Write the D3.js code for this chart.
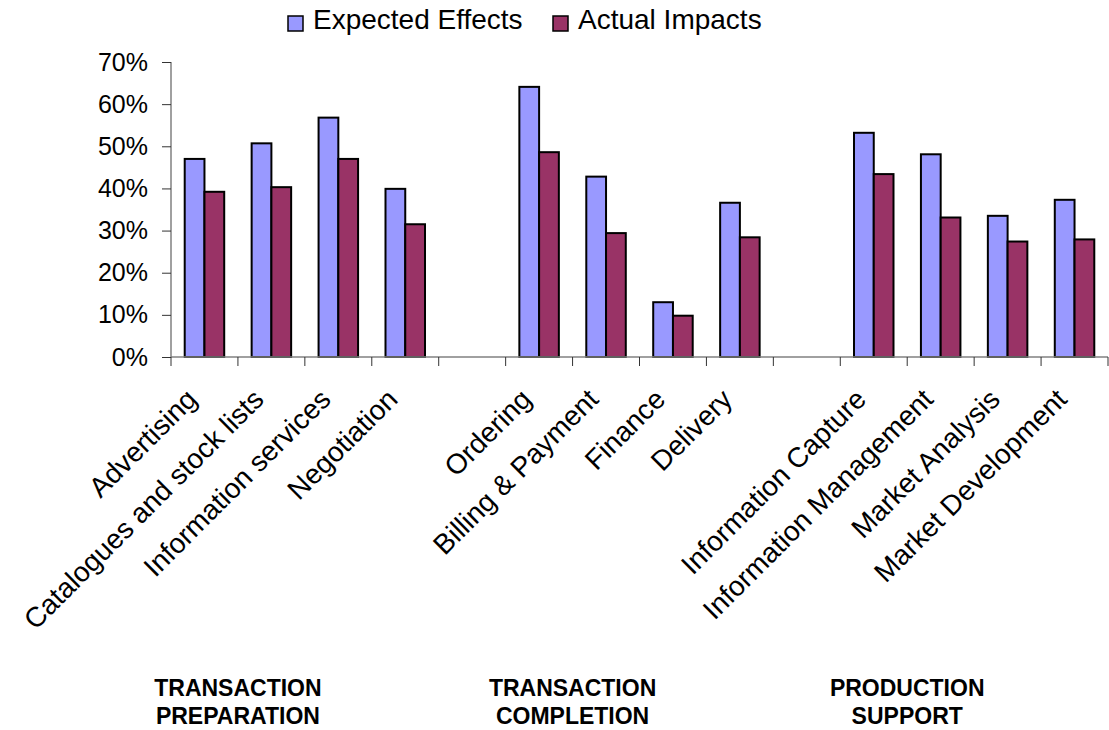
<!DOCTYPE html>
<html>
<head>
<meta charset="utf-8">
<script src="https://cdn.jsdelivr.net/npm/d3@7"></script>
<style>
  html, body { margin: 0; padding: 0; background: #fff; }
  svg { display: block; font-family: "Liberation Sans", Arial, sans-serif; }
</style>
</head>
<body>
<svg id="chart" width="1109" height="730"></svg>
<script>
const categories = ["Advertising", "Catalogues and stock lists", "Information services", "Negotiation", "",
  "Ordering", "Billing & Payment", "Finance", "Delivery", " ",
  "Information Capture", "Information Management", "Market Analysis", "Market Development"];
const expectedEffects = [47.0, 50.7, 56.8, 39.9, null, 64.1, 42.8, 13.0, 36.6, null, 53.2, 48.1, 33.5, 37.3];
const actualImpacts   = [39.2, 40.3, 47.0, 31.5, null, 48.6, 29.4, 9.8, 28.4, null, 43.4, 33.1, 27.4, 27.9];
const seriesNames = ["Expected Effects", "Actual Impacts"];
const seriesColors = ["#9999FF", "#993366"];
const yTicks = [0, 10, 20, 30, 40, 50, 60, 70];
const groupLabels = [["TRANSACTION", "PREPARATION"], ["TRANSACTION", "COMPLETION"], ["PRODUCTION", "SUPPORT"]];
const groupCenterSlots = [1, 6, 11];

const svg = d3.select("#chart");
const pLeft = 171, pRight = 1108, pTop = 62, pBottom = 357;

const x = d3.scaleBand().domain(d3.range(categories.length)).range([pLeft, pRight]).padding(0);
const y = d3.scaleLinear().domain([0, 70]).range([pBottom, pTop]);
const inner = d3.scaleBand().domain([0, 1]).range([0, 39.5]);
const groupOffset = (x.bandwidth() - 39.5) / 2;

// bars
const series = [expectedEffects, actualImpacts];
series.forEach((vals, si) => {
  svg.append("g").selectAll("rect")
    .data(vals.map((v, i) => ({v, i})).filter(d => d.v !== null))
    .join("rect")
    .attr("x", d => x(d.i) + groupOffset + inner(si))
    .attr("y", d => y(d.v))
    .attr("width", inner.bandwidth())
    .attr("height", d => y(0) - y(d.v))
    .attr("fill", seriesColors[si])
    .attr("stroke", "#000")
    .attr("stroke-width", 2);
});

// y axis
const yAxis = svg.append("g").attr("transform", `translate(${pLeft},0)`)
  .call(d3.axisLeft(y).tickValues(yTicks).tickFormat(d => d + "%").tickSize(9).tickPadding(14));
yAxis.select(".domain").attr("stroke", "#808080").attr("stroke-width", 1.5).attr("d", `M0,${pTop}V${pBottom}`);
yAxis.selectAll(".tick line").attr("stroke", "#333");
yAxis.selectAll(".tick text").attr("font-size", 25).attr("fill", "#000")
  .attr("font-family", "'Liberation Sans', Arial, sans-serif");

// x axis (ticks at band boundaries)
const xAxisG = svg.append("g");
xAxisG.append("line").attr("x1", pLeft).attr("x2", pRight).attr("y1", pBottom).attr("y2", pBottom)
  .attr("stroke", "#808080").attr("stroke-width", 1.5);
const bounds = d3.range(categories.length + 1).map(i => i < categories.length ? x(i) : x(categories.length - 1) + x.bandwidth());
xAxisG.selectAll("line.t").data(bounds).join("line").attr("class", "t")
  .attr("x1", d => d).attr("x2", d => d).attr("y1", pBottom).attr("y2", pBottom + 9)
  .attr("stroke", "#333").attr("stroke-width", 1);

// category labels
svg.append("g").selectAll("text")
  .data(categories.map((c, i) => ({c, i})).filter(d => d.c.trim() !== ""))
  .join("text")
  .attr("transform", d => `translate(${x(d.i) + x.bandwidth() / 2 - 6},${401}) rotate(-45)`)
  .attr("text-anchor", "end")
  .attr("font-size", 28)
  .text(d => d.c);

// group labels
groupCenterSlots.forEach((slot, gi) => {
  const cx = x(slot);
  const t = svg.append("text").attr("text-anchor", "middle").attr("font-weight", "bold").attr("font-size", 23);
  groupLabels[gi].forEach((line, li) => {
    t.append("tspan").attr("x", cx).attr("y", 696 + li * 28).text(line);
  });
});

// legend
const legend = svg.append("g");
const legendX = [288, 553];
seriesNames.forEach((name, i) => {
  legend.append("rect").attr("x", legendX[i]).attr("y", 16).attr("width", 15).attr("height", 15)
    .attr("fill", seriesColors[i]).attr("stroke", "#000").attr("stroke-width", 1.5);
  legend.append("text").attr("x", legendX[i] + 25).attr("y", 29).attr("font-size", 28).text(name);
});
</script>
</body>
</html>
